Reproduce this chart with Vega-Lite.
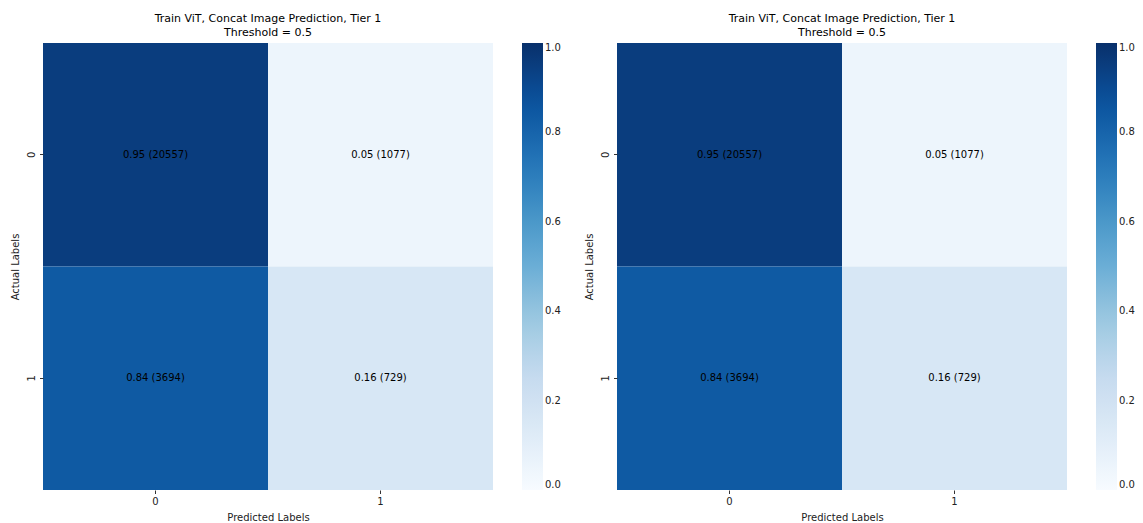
{
  "$schema": "https://vega.github.io/schema/vega-lite/v6.json",
  "background": "white",
  "padding": {"left": 10, "top": 13, "right": 0, "bottom": 0},
  "datasets": {
    "cm": [
      {"actual": "0", "predicted": "0", "frac": 0.95, "count": 20557},
      {"actual": "0", "predicted": "1", "frac": 0.05, "count": 1077},
      {"actual": "1", "predicted": "0", "frac": 0.84, "count": 3694},
      {"actual": "1", "predicted": "1", "frac": 0.16, "count": 729}
    ]
  },
  "spacing": 23,
  "hconcat": [
    {
      "width": 450,
      "height": 447,
      "title": {"text": ["Train ViT, Concat Image Prediction, Tier 1", "Threshold = 0.5"]},
      "data": {"name": "cm"},
      "transform": [{"calculate": "format(datum.frac, '.2f') + ' (' + datum.count + ')'", "as": "label"}],
      "encoding": {
        "x": {"field": "predicted", "type": "ordinal", "scale": {"paddingInner": 0, "paddingOuter": 0}, "axis": {"title": "Predicted Labels", "labelAngle": 0}},
        "y": {"field": "actual", "type": "ordinal", "scale": {"paddingInner": 0, "paddingOuter": 0}, "axis": {"title": "Actual Labels", "labelAngle": -90}}
      },
      "layer": [
        {
          "mark": {"type": "rect"},
          "encoding": {
            "color": {
              "field": "frac", "type": "quantitative",
              "scale": {"domain": [0, 1], "range": ["#f7fbff", "#deebf7", "#c6dbef", "#9ecae1", "#6baed6", "#4292c6", "#2171b5", "#08519c", "#08306b"]},
              "legend": {"title": null, "values": [0, 0.2, 0.4, 0.6, 0.8, 1.0], "format": ".1f", "gradientLength": 447, "gradientThickness": 21, "offset": 29, "labelBaseline": "middle", "encoding": {"labels": {"update": {"baseline": {"value": "middle"}}}}}
            }
          }
        },
        {
          "mark": {"type": "text", "fontSize": 10, "color": "black"},
          "encoding": {"text": {"field": "label"}}
        }
      ]
    },
    {
      "width": 450,
      "height": 447,
      "title": {"text": ["Train ViT, Concat Image Prediction, Tier 1", "Threshold = 0.5"]},
      "data": {"name": "cm"},
      "transform": [{"calculate": "format(datum.frac, '.2f') + ' (' + datum.count + ')'", "as": "label"}],
      "encoding": {
        "x": {"field": "predicted", "type": "ordinal", "scale": {"paddingInner": 0, "paddingOuter": 0}, "axis": {"title": "Predicted Labels", "labelAngle": 0}},
        "y": {"field": "actual", "type": "ordinal", "scale": {"paddingInner": 0, "paddingOuter": 0}, "axis": {"title": "Actual Labels", "labelAngle": -90}}
      },
      "layer": [
        {
          "mark": {"type": "rect"},
          "encoding": {
            "color": {
              "field": "frac", "type": "quantitative",
              "scale": {"domain": [0, 1], "range": ["#f7fbff", "#deebf7", "#c6dbef", "#9ecae1", "#6baed6", "#4292c6", "#2171b5", "#08519c", "#08306b"]},
              "legend": {"title": null, "values": [0, 0.2, 0.4, 0.6, 0.8, 1.0], "format": ".1f", "gradientLength": 447, "gradientThickness": 21, "offset": 29, "labelBaseline": "middle", "encoding": {"labels": {"update": {"baseline": {"value": "middle"}}}}}
            }
          }
        },
        {
          "mark": {"type": "text", "fontSize": 10, "color": "black"},
          "encoding": {"text": {"field": "label"}}
        }
      ]
    }
  ],
  "resolve": {"scale": {"color": "independent"}, "legend": {"color": "independent"}},
  "config": {
    "font": "DejaVu Sans",
    "view": {"stroke": null},
    "title": {"fontSize": 11, "fontWeight": "normal", "color": "black", "anchor": "middle", "offset": 5, "lineHeight": 14},
    "axis": {"domain": false, "tickSize": 3.5, "tickColor": "#333", "labelFontSize": 10, "labelColor": "#222", "titleFontSize": 10, "titleFontWeight": "normal", "titleColor": "#222", "labelPadding": 3, "titlePadding": 6},
    "legend": {"labelFontSize": 10, "labelColor": "#222", "gradientStrokeWidth": 0, "labelOffset": 4, "direction": "vertical", "orient": "right"}
  }
}
